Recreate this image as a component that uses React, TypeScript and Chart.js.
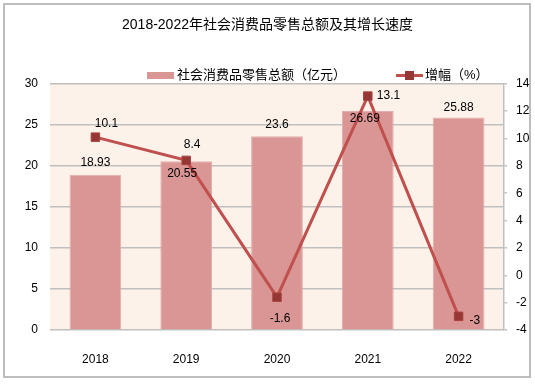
import React, { useEffect, useRef } from "react";
import { Chart, registerables } from "chart.js";

Chart.register(...registerables);

// ---- data ----
const categories = ["2018", "2019", "2020", "2021", "2022"];
const salesValues = [18.93, 20.55, 23.6, 26.69, 25.88];
const growthValues = [10.1, 8.4, -1.6, 13.1, -3];
const leftAxisMin = 0;
const leftAxisMax = 30;
const leftAxisStep = 5;
const rightAxisMin = -4;
const rightAxisMax = 14;
const rightAxisStep = 2;
const titleText = "2018-2022年社会消费品零售总额及其增长速度";
const barSeriesName = "社会消费品零售总额（亿元）";
const lineSeriesName = "增幅（%）";

// ---- styles ----
const FONT = '"Liberation Sans", "Noto Sans CJK SC", sans-serif';
const BAR_COLOR = "#D99694";
const BAR_BORDER = "#E3AEAD";
const LINE_COLOR = "#C0504D";
const MARKER_COLOR = "#953735";
const GRID_COLOR = "#BFBFBF";
const PLOT_BG = "#FDF2EA";

// label placement (pixel offsets relative to the mark)
const barLabelPlacement = [
  { dx: 0, dy: -12 },
  { dx: -4, dy: 12 },
  { dx: 0, dy: -12 },
  { dx: -3, dy: 8 },
  { dx: 0, dy: -10 },
];
const lineLabelPlacement: { dx: number; dy: number; align: CanvasTextAlign }[] = [
  { dx: 11, dy: -13, align: "center" },
  { dx: 6, dy: -16, align: "center" },
  { dx: 3, dy: 22, align: "center" },
  { dx: 9, dy: 0, align: "left" },
  { dx: 11, dy: 4, align: "left" },
];

const plotBackground = {
  id: "plotBackground",
  beforeDraw(chart: any) {
    const { ctx, chartArea } = chart;
    ctx.save();
    ctx.fillStyle = PLOT_BG;
    ctx.fillRect(chartArea.left, chartArea.top, chartArea.right - chartArea.left, chartArea.bottom - chartArea.top);
    ctx.restore();
  },
};

const dataLabels = {
  id: "dataLabels",
  afterDatasetsDraw(chart: any) {
    const { ctx } = chart;
    ctx.save();
    ctx.font = `12px ${FONT}`;
    ctx.fillStyle = "#000";
    ctx.textBaseline = "middle";
    const barMeta = chart.getDatasetMeta(0);
    barMeta.data.forEach((el: any, i: number) => {
      const p = barLabelPlacement[i];
      ctx.textAlign = "center";
      ctx.fillText(String(salesValues[i]), el.x + p.dx, el.y + p.dy);
    });
    const lineMeta = chart.getDatasetMeta(1);
    lineMeta.data.forEach((el: any, i: number) => {
      const p = lineLabelPlacement[i];
      ctx.textAlign = p.align;
      ctx.fillText(String(growthValues[i]), el.x + p.dx, el.y + p.dy);
    });
    ctx.restore();
  },
};

const customLegend = {
  id: "customLegend",
  afterDraw(chart: any) {
    const { ctx } = chart;
    const y = 75.5;
    ctx.save();
    // bar item
    ctx.fillStyle = BAR_COLOR;
    ctx.fillRect(147, 72, 27, 7);
    ctx.font = `13px ${FONT}`;
    ctx.fillStyle = "#000";
    ctx.textAlign = "left";
    ctx.textBaseline = "middle";
    ctx.fillText(chart.data.datasets[0].label, 177, y);
    // line item
    ctx.strokeStyle = LINE_COLOR;
    ctx.lineWidth = 3;
    ctx.beginPath();
    ctx.moveTo(396, y);
    ctx.lineTo(423, y);
    ctx.stroke();
    ctx.fillStyle = MARKER_COLOR;
    ctx.fillRect(405, y - 4.5, 9, 9);
    ctx.fillStyle = "#000";
    ctx.fillText(chart.data.datasets[1].label, 425, y);
    ctx.restore();
  },
};

export default function App() {
  const canvasRef = useRef<HTMLCanvasElement | null>(null);

  useEffect(() => {
    if (!canvasRef.current) return;
    const chart = new Chart(canvasRef.current, {
      type: "bar",
      data: {
        labels: categories,
        datasets: [
          {
            type: "bar",
            label: barSeriesName,
            data: salesValues,
            backgroundColor: BAR_COLOR,
            borderColor: BAR_BORDER,
            borderWidth: 1,
            barPercentage: 0.57,
            categoryPercentage: 1,
            yAxisID: "y",
            order: 2,
          },
          {
            type: "line",
            label: lineSeriesName,
            data: growthValues,
            borderColor: LINE_COLOR,
            borderWidth: 3,
            pointStyle: "rect",
            pointRadius: 6,
            pointBackgroundColor: MARKER_COLOR,
            pointBorderColor: "#A9423F",
            pointBorderWidth: 1,
            tension: 0,
            yAxisID: "y1",
            order: 1,
          } as any,
        ],
      },
      options: {
        responsive: false,
        animation: false,
        layout: { padding: 0 },
        plugins: {
          legend: { display: false },
          tooltip: { enabled: false },
          title: {
            display: true,
            text: titleText,
            color: "#000",
            font: { family: FONT, size: 14, weight: "normal" },
            padding: { top: 17, bottom: 50 },
          },
        },
        scales: {
          x: {
            type: "category",
            offset: true,
            grid: { display: false },
            border: { display: false },
            ticks: { color: "#000", font: { family: FONT, size: 12 }, padding: 14 },
            afterFit(scale: any) {
              scale.height = 55;
            },
          },
          y: {
            position: "left",
            min: leftAxisMin,
            max: leftAxisMax,
            ticks: { stepSize: leftAxisStep, color: "#000", font: { family: FONT, size: 12 }, padding: 12 },
            grid: { color: GRID_COLOR, lineWidth: 1.5, drawTicks: false },
            border: { display: false },
            afterFit(scale: any) {
              scale.width = 50;
            },
          },
          y1: {
            position: "right",
            min: rightAxisMin,
            max: rightAxisMax,
            ticks: { stepSize: rightAxisStep, color: "#000", font: { family: FONT, size: 12 }, padding: 9 },
            grid: { drawOnChartArea: false, color: GRID_COLOR, lineWidth: 1.5, tickLength: 3 },
            border: { display: true, color: GRID_COLOR, width: 1.5 },
            afterFit(scale: any) {
              scale.width = 31;
            },
          },
        },
      },
      plugins: [plotBackground, dataLabels, customLegend],
    } as any);
    return () => chart.destroy();
  }, []);

  return (
    <div style={{ position: "absolute", left: 0, top: 0, width: 535, height: 385, background: "#fff" }}>
      <div
        style={{
          position: "absolute",
          left: 3,
          top: 3,
          width: 528,
          height: 375,
          boxSizing: "border-box",
          border: "2px solid #BDBDBD",
        }}
      />
      <canvas
        ref={canvasRef}
        width={535}
        height={385}
        style={{ position: "absolute", left: 0, top: 0, width: 535, height: 385 }}
      />
    </div>
  );
}
